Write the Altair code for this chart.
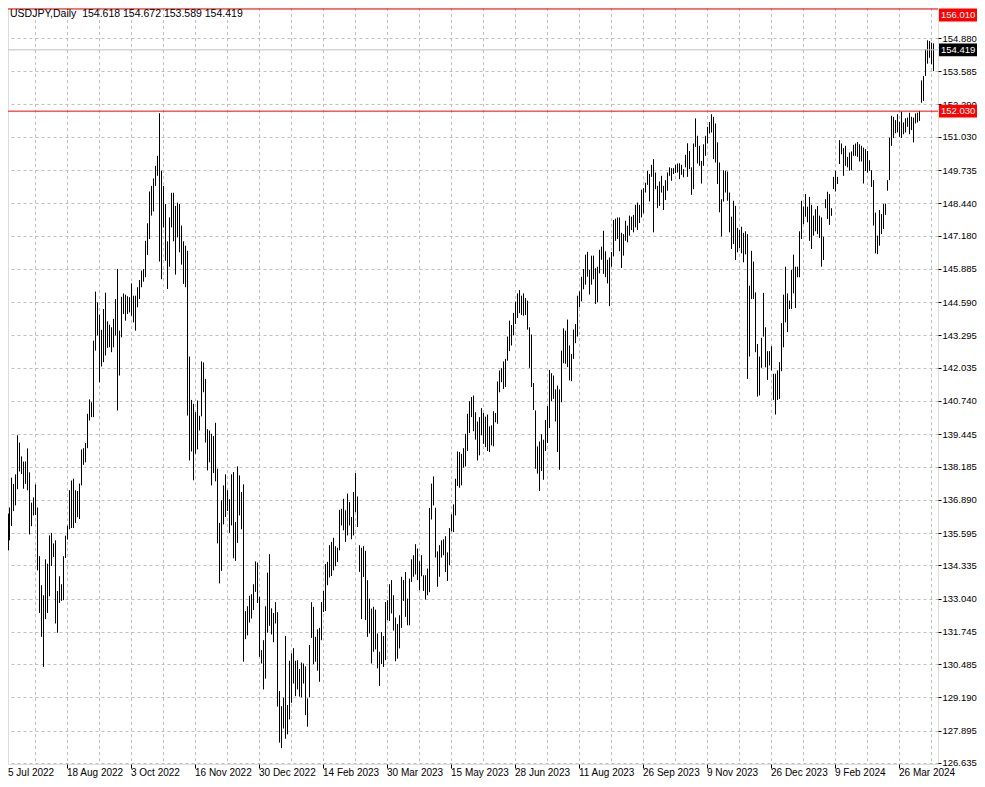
import altair as alt
import pandas as pd

symbol_title = "USDJPY,Daily\u00a0\u00a0154.618 154.672 153.589 154.419"
date_labels = ["5 Jul 2022", "18 Aug 2022", "3 Oct 2022", "16 Nov 2022", "30 Dec 2022",
               "14 Feb 2023", "30 Mar 2023", "15 May 2023", "28 Jun 2023", "11 Aug 2023",
               "26 Sep 2023", "9 Nov 2023", "26 Dec 2023", "9 Feb 2024", "26 Mar 2024"]
label_step = 32
grid_step = 16
price_ticks = [126.635, 127.895, 129.190, 130.485, 131.745, 133.040, 134.335, 135.595,
               136.890, 138.185, 139.445, 140.740, 142.035, 143.295, 144.590, 145.885,
               147.180, 148.440, 149.735, 151.030, 152.290, 153.585, 154.880]
level_prices = [156.010, 152.030]
last_price = 154.419

highs = [
136.35,135.99,135.87,136.59,137.75,137.51,137.88,139.40,139.12,138.58,
138.38,138.38,138.89,137.96,136.78,136.98,137.49,136.59,134.69,133.56,
133.17,134.57,134.40,135.50,135.60,135.19,135.31,133.34,133.91,133.60,
134.69,135.49,135.88,137.26,137.64,137.71,137.26,137.23,137.52,138.85,
138.90,139.10,140.24,140.80,140.69,143.09,145.00,144.58,144.10,143.51,
144.32,144.96,143.84,143.71,143.61,143.94,144.71,145.88,143.48,144.80,
144.93,144.88,144.82,144.78,145.32,144.84,144.84,145.17,145.45,145.82,
145.88,146.98,147.66,148.90,149.12,149.41,149.90,150.29,151.95,149.71,
149.12,148.41,146.96,147.89,148.85,148.85,148.34,148.47,148.41,147.57,
146.96,146.79,146.59,142.47,140.78,140.63,140.30,140.76,140.16,142.28,
142.24,141.60,139.64,139.59,139.46,139.37,139.89,138.10,135.99,136.87,
137.45,137.88,137.26,136.91,137.88,137.97,136.02,138.19,137.84,137.19,
137.49,132.55,132.74,133.15,133.21,133.60,134.49,134.44,133.11,131.03,
131.42,132.74,134.05,134.77,132.66,132.48,132.90,132.51,129.44,128.85,
129.18,131.58,128.89,130.62,130.91,131.11,130.62,130.64,130.30,130.55,
130.51,130.40,129.15,131.23,132.90,132.72,131.55,131.84,131.90,132.91,
133.34,134.38,134.47,135.12,135.25,135.41,135.08,135.02,136.50,136.54,
136.93,136.48,137.13,136.80,136.22,137.19,137.93,137.02,135.12,135.02,
135.08,134.90,133.76,133.04,132.65,132.72,132.61,131.68,130.97,131.74,
131.58,132.91,132.98,133.60,133.76,133.17,132.30,132.05,132.39,133.89,
133.76,134.07,133.04,133.82,134.57,134.73,135.16,134.99,134.49,134.73,
133.95,133.95,134.21,136.57,137.52,137.80,136.58,134.88,135.12,135.31,
135.35,135.47,134.84,135.79,136.32,136.71,137.71,138.77,138.75,138.68,
138.90,139.46,140.24,140.73,140.89,140.95,140.30,139.94,140.11,140.46,
140.27,140.13,140.21,139.75,139.79,140.34,140.27,141.50,141.93,142.02,
142.28,142.38,143.25,143.87,143.70,144.17,144.61,144.93,145.06,144.84,
144.93,144.75,144.65,143.61,143.33,141.44,140.37,138.97,139.16,139.44,
139.23,140.00,140.54,141.95,141.82,141.73,141.19,141.34,141.19,142.70,
143.57,143.48,143.91,142.90,142.57,143.52,143.74,144.84,145.01,145.58,
145.88,146.44,146.55,145.84,146.40,146.40,145.91,145.97,146.63,146.75,
147.37,146.57,146.24,146.33,146.54,147.79,147.84,147.89,147.89,147.29,
147.24,147.76,147.57,147.96,147.92,147.99,148.38,148.47,148.38,148.97,
149.03,149.24,149.71,149.58,149.94,150.16,149.64,149.12,149.29,149.51,
149.12,149.34,149.64,149.84,149.81,149.81,149.94,149.99,150.00,149.94,
149.77,150.33,150.78,150.48,149.84,150.77,151.75,151.07,150.68,150.09,
150.74,151.07,151.42,151.61,151.91,151.81,151.55,150.81,150.03,148.60,
149.73,149.71,149.68,148.86,147.92,148.54,148.34,147.48,147.41,147.53,
147.29,147.35,147.24,145.23,146.59,146.17,144.97,142.96,142.47,143.20,
144.95,143.61,142.68,142.68,142.87,141.80,141.80,141.93,142.25,143.77,
144.88,145.97,144.93,144.65,145.85,146.44,145.97,145.97,147.35,148.54,
148.31,148.80,148.31,148.69,148.38,147.96,148.21,148.33,147.96,147.89,
147.14,148.60,148.89,148.80,148.25,149.47,149.71,149.47,150.90,150.77,
150.59,150.68,150.25,150.42,150.46,150.72,150.77,150.83,150.74,150.68,
150.61,150.55,150.48,150.12,149.73,149.34,148.08,147.18,148.18,148.02,
148.41,148.43,149.34,151.00,151.85,151.81,151.68,151.91,151.62,152.01,
151.59,151.75,151.78,151.97,151.81,151.78,151.94,151.97,152.04,153.23,
153.40,154.44,154.79,154.76,154.70,154.672]

lows = [
135.50,134.92,135.34,135.31,135.87,136.45,136.67,137.30,137.99,137.89,
137.32,137.51,137.26,135.54,135.86,136.28,136.30,134.14,132.48,131.55,
130.38,132.24,132.48,133.13,134.31,134.66,132.07,131.71,132.87,132.95,
132.98,134.62,135.34,135.74,135.79,135.79,135.99,136.21,136.14,137.45,
138.25,138.35,138.90,139.98,140.11,140.11,142.70,143.29,141.47,142.08,
142.25,142.51,142.81,142.83,142.64,142.83,143.29,140.37,141.73,143.22,
144.13,143.87,144.13,144.19,144.06,143.80,143.48,144.39,144.71,145.17,
145.39,145.56,146.43,147.05,147.96,148.12,149.12,149.51,146.17,145.48,
147.50,146.20,145.10,145.97,147.50,146.96,145.66,147.11,146.53,146.05,
145.30,145.17,140.17,138.42,138.77,137.65,138.68,138.85,139.59,140.14,
141.08,139.12,138.03,138.35,137.45,137.93,137.61,135.19,133.63,134.12,
135.93,136.22,136.45,135.60,135.89,134.61,134.51,135.21,136.28,135.74,
130.58,131.46,131.61,132.11,132.26,132.59,133.30,132.87,130.77,130.51,
129.50,129.92,131.71,131.98,131.64,131.34,132.07,128.83,127.43,127.21,
127.98,127.58,127.75,128.33,128.98,129.73,129.24,129.50,129.22,129.19,
129.73,128.50,128.05,129.19,131.51,130.49,130.58,130.23,129.80,131.42,
132.52,132.56,133.56,133.86,133.92,134.14,134.30,134.47,134.92,135.89,
135.70,135.25,135.50,135.89,135.35,135.50,136.41,135.83,134.08,132.24,
133.88,132.20,131.55,131.68,130.51,130.97,131.06,130.32,129.64,130.49,
130.38,130.64,132.20,132.17,132.46,131.80,130.60,130.70,131.10,131.90,
132.95,132.33,132.00,132.00,133.69,133.89,133.98,133.76,133.37,133.91,
133.34,133.00,133.17,133.29,136.12,136.67,134.64,133.50,133.89,134.64,
134.73,134.08,133.73,134.34,135.66,135.63,136.28,137.43,137.36,137.45,
138.14,138.19,138.79,139.49,140.11,139.56,139.23,138.42,138.62,139.40,
139.07,138.94,138.79,138.75,139.01,138.97,139.91,139.85,141.08,141.47,
141.21,141.28,142.31,142.68,142.90,143.29,143.74,143.97,144.16,144.09,
144.06,144.09,143.52,142.03,141.28,140.39,138.10,137.91,137.23,138.01,
137.67,138.79,139.10,139.69,140.73,140.82,139.94,138.75,138.06,140.69,
142.21,142.19,142.06,141.54,141.51,142.38,142.99,143.25,144.39,144.62,
145.09,145.27,145.58,144.89,145.27,145.48,144.52,144.58,145.71,146.24,
145.69,145.56,145.32,144.43,145.97,146.37,146.98,147.05,146.57,145.92,
146.40,146.98,146.92,147.18,147.40,147.31,147.50,147.40,147.67,147.89,
148.05,148.86,149.16,148.51,149.47,147.31,148.99,148.25,148.34,148.86,
148.18,148.57,148.93,149.51,149.32,149.58,149.62,149.64,149.38,149.55,
149.45,149.84,149.47,149.77,148.77,148.99,150.64,149.99,149.90,149.21,
149.90,150.29,150.77,151.16,151.20,150.16,150.03,149.19,148.09,147.15,
148.51,148.86,148.54,147.31,146.66,146.85,146.23,146.53,146.70,146.49,
146.14,146.45,141.60,142.47,144.71,144.71,142.64,140.91,140.95,142.03,
143.25,142.05,141.56,142.12,141.93,140.78,140.21,140.78,140.82,141.90,
142.83,143.80,143.42,144.32,144.32,144.93,144.36,145.56,145.56,147.05,
147.63,147.92,147.70,146.98,146.66,147.18,147.35,147.24,147.09,145.97,
146.23,148.25,147.83,147.60,147.95,148.99,148.90,149.19,149.97,150.35,
149.51,149.90,149.84,149.71,149.73,150.29,150.29,150.25,150.07,150.07,
149.21,149.70,149.64,149.70,149.08,147.57,146.49,146.46,146.79,147.24,
147.44,147.99,148.93,149.34,150.68,150.98,151.17,151.20,151.03,150.98,
151.13,151.20,151.42,151.13,151.29,150.81,151.55,151.59,151.65,152.36,
152.43,153.40,153.88,154.11,153.86,153.589]

n = len(highs)
bars = pd.DataFrame({"bar": list(range(n)), "high": highs, "low": lows})
date_df = pd.DataFrame({"bar": [k * label_step for k in range(len(date_labels))], "label": date_labels})
vgrid_df = pd.DataFrame({"bar": list(range(grid_step, n, grid_step))})
level_df = pd.DataFrame({"price": level_prices, "label": [f"{p:.3f}" for p in level_prices]})
last_df = pd.DataFrame({"price": [last_price], "label": [f"{last_price:.3f}"]})
title_df = pd.DataFrame({"t": [symbol_title]})

PW, PH = 930, 756
FONT = "Liberation Sans"
GRID = "#c0c0c0"
AX_FS = 9.5
Y_TOP = 156.049

x_scale = alt.Scale(domain=[2.5, 2.5 + PW / 2], clamp=True, nice=False, zero=False)
y_scale = alt.Scale(domain=[126.596, Y_TOP], nice=False, zero=False)
x_axis = alt.Axis(values=list(range(label_step, n, label_step)), labels=False, ticks=True,
                  tickSize=4, tickColor="black", domain=False, grid=False, title=None)
y_axis = alt.Axis(orient="right", values=price_ticks, format=".3f", labelFont=FONT,
                  labelFontSize=AX_FS, labelColor="black", tickColor="black", tickSize=3,
                  labelPadding=1, domain=False, grid=True, gridColor=GRID,
                  gridDash=[3, 3], labelOverlap=False, title=None)

X = lambda: alt.X("bar:Q", scale=x_scale, axis=x_axis)
Yp = lambda f: alt.Y(f, scale=y_scale, axis=y_axis)

vgrid = alt.Chart(vgrid_df).mark_rule(color=GRID, strokeDash=[3, 3], xOffset=0.5).encode(
    x=X(), y=alt.value(0), y2=alt.value(PH))

ohlc = alt.Chart(bars).mark_rule(color="black", strokeWidth=1, xOffset=0.5).encode(
    x=X(), y=Yp("low:Q"), y2="high:Q")

last_line = alt.Chart(last_df).mark_rule(color=GRID, strokeWidth=1).encode(
    y=Yp("price:Q"), x=alt.value(0), x2=alt.value(PW))
level_lines = alt.Chart(level_df).mark_rule(color="#ff0000", strokeWidth=1).encode(
    y=Yp("price:Q"), x=alt.value(0), x2=alt.value(PW))

BOX = "M-1,-0.34L1,-0.34L1,0.34L-1,0.34Z"
BOX_SIZE = 38 * 38


def price_tag(df, fill, y_shift=0.0, flt=None):
    base = alt.Chart(df)
    if flt is not None:
        base = base.transform_filter(flt)
    box = base.mark_point(shape=BOX, size=BOX_SIZE, filled=True, opacity=1, color=fill,
                          strokeWidth=0, yOffset=y_shift).encode(
        y=Yp("price:Q"), x=alt.value(PW + 20))
    txt = base.mark_text(color="white", align="left", baseline="middle", font=FONT,
                         fontSize=AX_FS, yOffset=y_shift).encode(
        y=Yp("price:Q"), x=alt.value(PW + 3), text="label:N")
    return [box, txt]


# the topmost tag is nudged down so it stays inside the drawing
top_tag = price_tag(level_df, "#ff0000", 6, alt.datum.price > Y_TOP - 0.3)
mid_tag = price_tag(level_df, "#ff0000", 0, alt.datum.price <= Y_TOP - 0.3)
last_tag = price_tag(last_df, "black", 0)

date_txt = alt.Chart(date_df).mark_text(align="left", baseline="top", font=FONT,
                                        fontSize=10, color="black").encode(
    x=X(), y=alt.value(PH + 4), text="label:N")

title_txt = alt.Chart(title_df).mark_text(align="left", baseline="middle", font=FONT,
                                          fontSize=10.5, color="black").encode(
    x=alt.value(2), y=alt.value(6), text="t:N")

chart = alt.layer(vgrid, ohlc, last_line, level_lines, *top_tag, *mid_tag, *last_tag,
                  date_txt, title_txt).properties(
    width=PW, height=PH,
    autosize=alt.AutoSizeParams(type="none"),
    padding={"left": 0, "top": 0, "right": 39, "bottom": 15},
).configure_view(stroke="black", strokeWidth=1).configure(background="white")

chart.save("out.html", embed_options={"renderer": "svg", "actions": False})
